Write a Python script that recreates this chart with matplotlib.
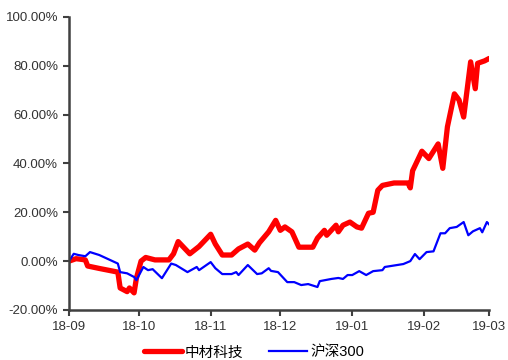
import matplotlib
matplotlib.use("Agg")
import matplotlib.pyplot as plt
import matplotlib.dates as mdates
import pandas as pd
from matplotlib.ticker import FuncFormatter

plt.rcParams['font.family'] = ['Liberation Sans', 'Noto Sans CJK SC', 'DejaVu Sans']

# 中材科技 cumulative return (%)
zc_dates = ["2018-09-01", "2018-09-04", "2018-09-08", "2018-09-09", "2018-09-14",
            "2018-09-22", "2018-09-23", "2018-09-26", "2018-09-27", "2018-09-29",
            "2018-09-30", "2018-10-02", "2018-10-04", "2018-10-08", "2018-10-14",
            "2018-10-16", "2018-10-18", "2018-10-23", "2018-10-27", "2018-11-01",
            "2018-11-03", "2018-11-06", "2018-11-10", "2018-11-13", "2018-11-17",
            "2018-11-20", "2018-11-22", "2018-11-26", "2018-11-29", "2018-12-01",
            "2018-12-03", "2018-12-06", "2018-12-09", "2018-12-15", "2018-12-17",
            "2018-12-20", "2018-12-21", "2018-12-25", "2018-12-26", "2018-12-28",
            "2018-12-31", "2019-01-03", "2019-01-05", "2019-01-08", "2019-01-10",
            "2019-01-12", "2019-01-14", "2019-01-19", "2019-01-23", "2019-01-25",
            "2019-01-26", "2019-01-27", "2019-01-31", "2019-02-03", "2019-02-07",
            "2019-02-09", "2019-02-11", "2019-02-14", "2019-02-16", "2019-02-18",
            "2019-02-21", "2019-02-23", "2019-02-24", "2019-02-27", "2019-03-01"]
zc_values = [0.0, 1.0, 0.5, -2.0, -3.0,
             -4.5, -11.0, -12.5, -11.0, -13.0,
             -7.0, 0.0, 1.5, 0.5, 0.5,
             3.0, 8.0, 3.0, 6.0, 11.0,
             7.0, 2.5, 2.5, 5.0, 7.0,
             4.5, 7.5, 12.0, 16.7, 12.6,
             14.0, 12.0, 5.7, 5.7, 9.4,
             12.6, 10.6, 14.7, 12.0, 14.7,
             16.0, 14.0, 13.5, 19.6, 20.0,
             29.0, 31.0, 32.0, 32.0, 32.0,
             30.0, 37.0, 45.0, 42.0, 48.0,
             38.0, 55.0, 68.5, 66.0, 59.0,
             81.6, 70.6, 81.0, 82.0, 83.0]

# 沪深300 cumulative return (%)
hs_dates = ["2018-09-01", "2018-09-03", "2018-09-05", "2018-09-08", "2018-09-10",
            "2018-09-14", "2018-09-22", "2018-09-23", "2018-09-26", "2018-09-29",
            "2018-09-30", "2018-10-03", "2018-10-05", "2018-10-07", "2018-10-11",
            "2018-10-15", "2018-10-17", "2018-10-22", "2018-10-26", "2018-10-27",
            "2018-11-01", "2018-11-03", "2018-11-06", "2018-11-10", "2018-11-12",
            "2018-11-13", "2018-11-17", "2018-11-21", "2018-11-23", "2018-11-26",
            "2018-11-27", "2018-11-30", "2018-12-04", "2018-12-07", "2018-12-10",
            "2018-12-13", "2018-12-17", "2018-12-18", "2018-12-23", "2018-12-26",
            "2018-12-28", "2018-12-30", "2019-01-01", "2019-01-04", "2019-01-07",
            "2019-01-10", "2019-01-14", "2019-01-15", "2019-01-23", "2019-01-26",
            "2019-01-28", "2019-01-30", "2019-02-02", "2019-02-05", "2019-02-08",
            "2019-02-10", "2019-02-12", "2019-02-15", "2019-02-18", "2019-02-20",
            "2019-02-22", "2019-02-25", "2019-02-26", "2019-02-28", "2019-03-01"]
hs_values = [0.0, 3.0, 2.5, 2.0, 3.7,
             2.5, -1.0, -4.5, -5.0, -6.5,
             -7.8, -2.4, -3.7, -3.3, -7.0,
             -1.0, -1.6, -4.5, -2.4, -3.7,
             -0.4, -2.9, -5.3, -5.3, -4.5,
             -5.7, -1.6, -5.3, -5.0, -2.9,
             -4.0, -4.5, -8.6, -8.6, -9.8,
             -9.4, -10.6, -8.2, -7.3, -6.9,
             -7.3, -5.7, -5.7, -4.1, -5.7,
             -4.1, -3.7, -2.4, -1.2, 0.0,
             2.9, 0.8, 3.7, 4.0, 11.4,
             11.4, 13.5, 14.0, 16.0, 10.6,
             12.2, 13.5, 11.8, 16.0, 15.0]

fig = plt.figure(figsize=(5.08, 3.6), dpi=100)
ax = fig.add_axes([0.136, 0.139, 0.827, 0.814])

ax.plot(pd.to_datetime(zc_dates), zc_values, color="#ff0000", lw=3.8,
        solid_joinstyle="round", solid_capstyle="round", label="中材科技")
ax.plot(pd.to_datetime(hs_dates), hs_values, color="#0000ff", lw=1.6,
        solid_joinstyle="round", label="沪深300")

ax.set_ylim(-20, 100)
ax.set_yticks(range(-20, 101, 20))
ax.yaxis.set_major_formatter(FuncFormatter(lambda v, p: f"{v:.2f}%"))
ax.set_xlim(pd.Timestamp("2018-09-01"), pd.Timestamp("2019-03-01"))
ax.xaxis.set_major_locator(mdates.MonthLocator())
ax.xaxis.set_major_formatter(mdates.DateFormatter("%y-%m"))

for s in ["top", "right"]:
    ax.spines[s].set_visible(False)
for s in ["left", "bottom"]:
    ax.spines[s].set_color("#404040")
    ax.spines[s].set_linewidth(1.8)
ax.tick_params(axis="both", length=4, width=1.5, color="#404040",
               labelsize=9.5, labelcolor="#333333", pad=4)

fig.legend(loc="lower center", bbox_to_anchor=(0.5, -0.035), ncol=2,
           frameon=False, fontsize=10.5, handlelength=2.6, columnspacing=1.8,
           handletextpad=0.2)

fig.savefig("out.png", dpi=100)
